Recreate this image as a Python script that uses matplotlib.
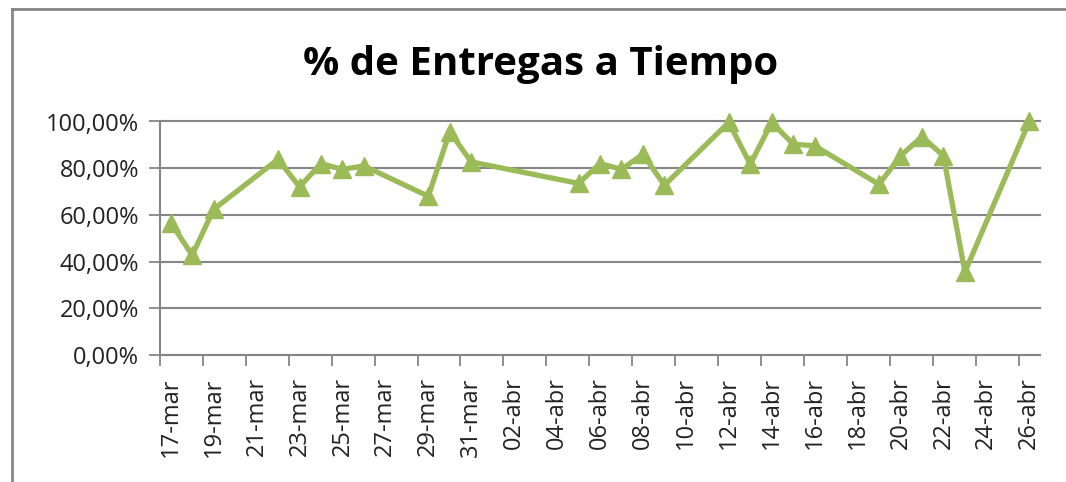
import numpy as np
import pandas as pd
import matplotlib
matplotlib.use('Agg')
import matplotlib.pyplot as plt
from matplotlib.lines import Line2D

# data
fechas = ['2011-03-17', '2011-03-18', '2011-03-19', '2011-03-22', '2011-03-23',
          '2011-03-24', '2011-03-25', '2011-03-26', '2011-03-29', '2011-03-30',
          '2011-03-31', '2011-04-05', '2011-04-06', '2011-04-07', '2011-04-08',
          '2011-04-09', '2011-04-12', '2011-04-13', '2011-04-14', '2011-04-15',
          '2011-04-16', '2011-04-19', '2011-04-20', '2011-04-21', '2011-04-22',
          '2011-04-23', '2011-04-26']
entregas = [56.7, 42.7, 62.4, 83.8, 72.0, 82.0, 79.5, 81.0, 68.0, 95.6,
            82.7, 73.5, 82.0, 79.5, 86.0, 72.7, 99.6, 81.7, 99.6, 90.3,
            89.6, 73.1, 85.3, 93.5, 85.3, 35.5, 100.0]

etiquetas = ['17-mar', '19-mar', '21-mar', '23-mar', '25-mar', '27-mar', '29-mar',
             '31-mar', '02-abr', '04-abr', '06-abr', '08-abr', '10-abr', '12-abr',
             '14-abr', '16-abr', '18-abr', '20-abr', '22-abr', '24-abr', '26-abr']
y_ticks = [0, 20, 40, 60, 80, 100]

verde = '#9BBB59'
gris = '#868686'
fuente = 'Open Sans'

inicio = pd.Timestamp('2011-03-17')
dias = np.array([(pd.Timestamp(f) - inicio).days for f in fechas])
n_dias = 41

fig = plt.figure(figsize=(10.66, 4.82), dpi=100)
ax = fig.add_axes([160 / 1066, 1 - 355 / 482, 880 / 1066, 233.5 / 482])

# chart border, only left and top are inside the picture
bx = 12 / 1066
by = 1 - 9 / 482
fig.add_artist(Line2D([bx, bx], [-0.05, by], transform=fig.transFigure,
                      color=gris, linewidth=2))
fig.add_artist(Line2D([bx, 1.05], [by, by], transform=fig.transFigure,
                      color=gris, linewidth=2))

ax.plot(dias, entregas, color=verde, linewidth=3.8, marker='^',
        markersize=13, markeredgecolor=verde, markerfacecolor=verde,
        clip_on=False, zorder=3)

ax.set_xlim(-0.5, n_dias - 0.5)
ax.set_ylim(0, 100)

# x: tick marks at slot edges, labels in slot centres
ax.set_xticks(np.arange(-0.5, n_dias - 1, 2))
ax.set_xticklabels([])
ax.set_xticks(np.arange(0, n_dias, 2), minor=True)
ax.set_xticklabels(etiquetas, minor=True, rotation=90, fontsize=17,
                   family=fuente, color='#222222', va='top', ha='center')
ax.tick_params(axis='x', which='major', length=8, width=1.3, color=gris,
               direction='out')
ax.tick_params(axis='x', which='minor', length=0, pad=16)

ax.set_yticks(y_ticks)
ax.set_yticklabels(['%d,00%%' % v for v in y_ticks], fontsize=17,
                   family=fuente, color='#222222')
ax.tick_params(axis='y', length=8, width=1.3, color=gris, pad=7)

ax.yaxis.grid(True, color=gris, linewidth=1.5)
for gl in ax.get_ygridlines():
    gl.set_clip_on(False)
ax.set_axisbelow(True)
for s in ['top', 'right']:
    ax.spines[s].set_visible(False)
for s in ['left', 'bottom']:
    ax.spines[s].set_color(gris)
    ax.spines[s].set_linewidth(1.5)

fig.text(541 / 1066, 1 - 75 / 482, '% de Entregas a Tiempo', ha='center',
         va='baseline', fontsize=29, fontweight='bold', family=fuente)

fig.savefig('out.png', dpi=100)
